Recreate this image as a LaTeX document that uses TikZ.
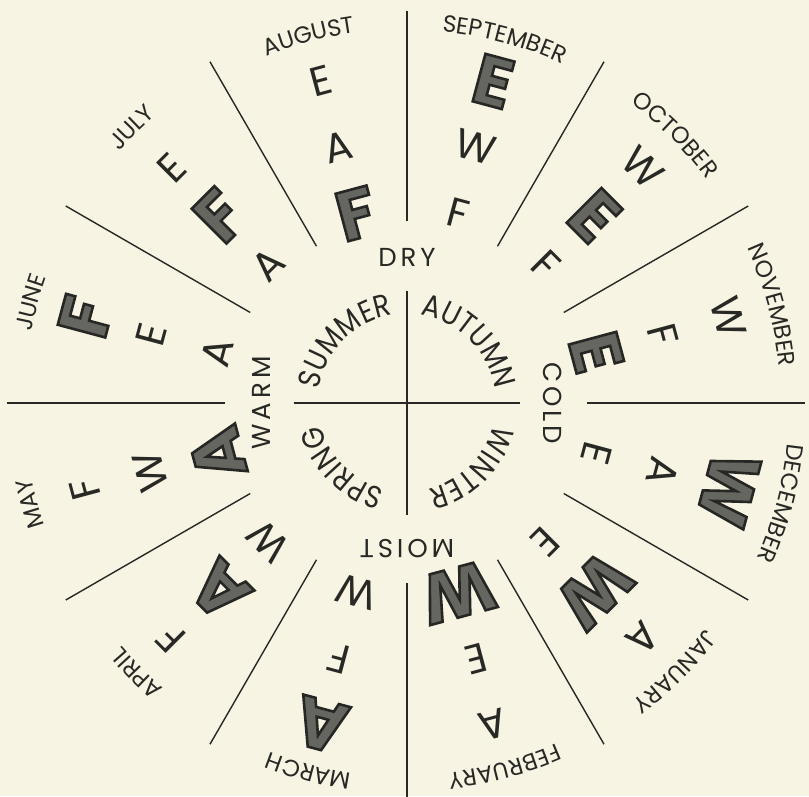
\documentclass[tikz,border=0pt]{standalone}
\usepackage{fontspec}
\setmainfont{Poppins}
\usetikzlibrary{decorations.text}

\definecolor{paper}{RGB}{247,244,228}
\definecolor{ink}{RGB}{40,40,36}

% 粗体字母：深色描边 + 灰色填充
\newcommand{\boldelem}[1]{{\fontsize{70}{70}\selectfont\bfseries
  \special{pdf:literal direct 2 Tr 2.6 w 0.15 0.15 0.14 RG 0.40 0.40 0.38 rg}#1\special{pdf:literal direct 0 Tr}}}
\newcommand{\monfont}{\fontsize{23.5}{24}\selectfont\addfontfeature{LetterSpace=13}}
\newcommand{\seafont}{\fontsize{31}{31}\selectfont\addfontfeature{FakeStretch=0.88}}
\newcommand{\quafont}{\fontsize{26}{26}\selectfont\addfontfeature{LetterSpace=15}}

\begin{document}
\begin{tikzpicture}[
    x=1pt, y=1pt,
    axis/.style={ink, line width=2.4pt},
    sep/.style={ink, line width=1.4pt},
    elem/.style={text=ink, inner sep=0pt, font=\fontsize{41}{41}\selectfont},
    quality/.style={text=ink, inner sep=0pt, font=\quafont},
    ring/.style={decorate, decoration={text along path, text align=center, text color=ink}}
]

% 背景与边界
\fill[paper] (-407,-393) rectangle (402,403);
\useasboundingbox (-407,-393) rectangle (402,403);

% ========== 分隔线 ==========
\foreach \ang in {30,60,120,150,210,240,300,330} {
    \draw[sep] (\ang:181) -- (\ang:394); % 月份分隔
}
\draw[axis] (90:182) -- (90:392);
\draw[axis] (270:180) -- (270:396);
\draw[axis] (180:182) -- (180:400);
\draw[axis] (0:180) -- (0:398);
% 中心十字
\draw[axis] (-113,0) -- (113,0);
\draw[axis] (0,-112) -- (0,112);

% ========== 月份（外圈）==========
\foreach \mon/\ang/\rad in {SEPTEMBER/75/373, OCTOBER/45/374, NOVEMBER/15/374,
    DECEMBER/-15/383, JANUARY/-45/374, FEBRUARY/-75/372, MARCH/-105/375,
    APRIL/-135/375, MAY/-165/383, JUNE/165/382, JULY/135/382, AUGUST/105/374} {
    \path[ring, decoration={text/.expanded={|\noexpand\monfont|\mon}}]
        (\ang+15:\rad) arc[start angle=\ang+15, end angle=\ang-15, radius=\rad];
}

% ========== 季节（内圈）==========
\foreach \sea/\ang in {SUMMER/135, AUTUMN/45, WINTER/-45, SPRING/-135} {
    \path[ring, decoration={text/.expanded={|\noexpand\seafont|\sea}}]
        (\ang+46:89) arc[start angle=\ang+46, end angle=\ang-46, radius=89];
}

% 四种性质
\node[quality] (dry) at (90:146) {DRY};
\node[quality, rotate=90] (warm) at (180:146) {WARM};
\node[quality, rotate=-90] (cold) at (0:146) {COLD};
\node[quality, rotate=180] (moist) at (270:146) {MOIST};

% ========== 各月元素字母 ==========
\foreach \ang/\lo/\lm/\li [count=\k] in {
    75/\boldelem{E}/W/F, 45/W/\boldelem{E}/F, 15/W/F/\boldelem{E},
    -15/\boldelem{W}/A/E, -45/A/\boldelem{W}/E, -75/A/E/\boldelem{W},
    -105/\boldelem{A}/F/W, -135/F/\boldelem{A}/W, -165/F/W/\boldelem{A},
    165/\boldelem{F}/E/A, 135/E/\boldelem{F}/A, 105/E/A/\boldelem{F}} {
    \node[elem, rotate=\ang-90] (out\k) at (\ang:333) {\lo};
    \node[elem, rotate=\ang-90] (mid\k) at (\ang:265) {\lm};
    \node[elem, rotate=\ang-90] (in\k) at (\ang:196) {\li};
}

\end{tikzpicture}
\end{document}
